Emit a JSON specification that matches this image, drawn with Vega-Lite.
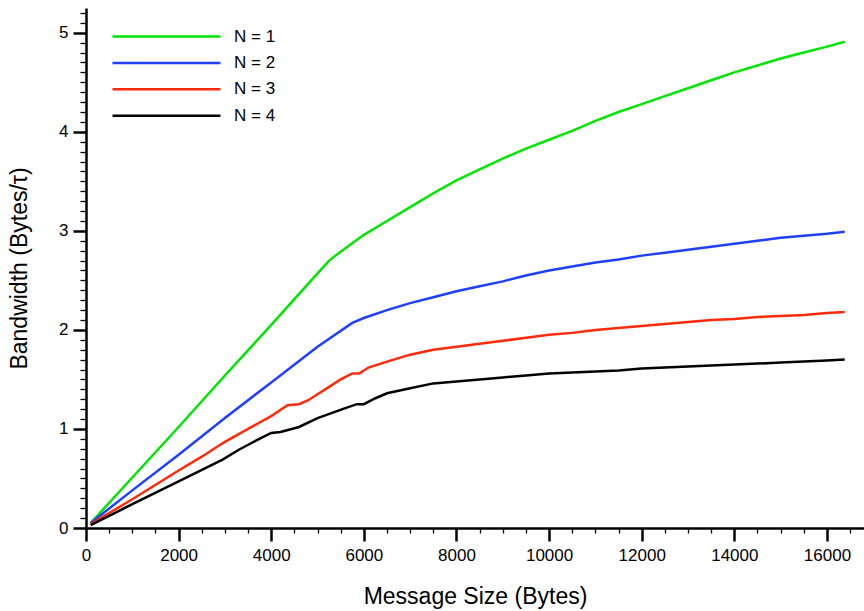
{
  "$schema": "https://vega.github.io/schema/vega-lite/v6.json",
  "width": 778,
  "height": 520,
  "autosize": {"type": "none"},
  "padding": {"left": 86, "top": 8, "right": 0, "bottom": 83},
  "background": "white",
  "config": {
    "view": {"stroke": null},
    "font": "Liberation Sans",
    "axis": {"labelFont": "Liberation Sans", "titleFont": "Liberation Sans", "labelColor": "black", "titleColor": "black", "domainColor": "black", "tickColor": "black", "grid": false, "titleFontWeight": "normal"}
  },
  "datasets": {
    "bw": [
      {"size": 100, "bw": 0.05, "series": "N = 1"},
      {"size": 1000, "bw": 0.51, "series": "N = 1"},
      {"size": 2000, "bw": 1.02, "series": "N = 1"},
      {"size": 3000, "bw": 1.54, "series": "N = 1"},
      {"size": 4000, "bw": 2.05, "series": "N = 1"},
      {"size": 5000, "bw": 2.57, "series": "N = 1"},
      {"size": 5250, "bw": 2.70, "series": "N = 1"},
      {"size": 5500, "bw": 2.79, "series": "N = 1"},
      {"size": 6000, "bw": 2.96, "series": "N = 1"},
      {"size": 6500, "bw": 3.10, "series": "N = 1"},
      {"size": 7000, "bw": 3.24, "series": "N = 1"},
      {"size": 7500, "bw": 3.38, "series": "N = 1"},
      {"size": 8000, "bw": 3.51, "series": "N = 1"},
      {"size": 8500, "bw": 3.62, "series": "N = 1"},
      {"size": 9000, "bw": 3.73, "series": "N = 1"},
      {"size": 9500, "bw": 3.83, "series": "N = 1"},
      {"size": 10000, "bw": 3.92, "series": "N = 1"},
      {"size": 10500, "bw": 4.01, "series": "N = 1"},
      {"size": 11000, "bw": 4.11, "series": "N = 1"},
      {"size": 11500, "bw": 4.20, "series": "N = 1"},
      {"size": 12000, "bw": 4.28, "series": "N = 1"},
      {"size": 12500, "bw": 4.36, "series": "N = 1"},
      {"size": 13000, "bw": 4.44, "series": "N = 1"},
      {"size": 13500, "bw": 4.52, "series": "N = 1"},
      {"size": 14000, "bw": 4.60, "series": "N = 1"},
      {"size": 14500, "bw": 4.67, "series": "N = 1"},
      {"size": 15000, "bw": 4.74, "series": "N = 1"},
      {"size": 15500, "bw": 4.80, "series": "N = 1"},
      {"size": 16000, "bw": 4.86, "series": "N = 1"},
      {"size": 16384, "bw": 4.91, "series": "N = 1"},

      {"size": 100, "bw": 0.05, "series": "N = 2"},
      {"size": 1000, "bw": 0.38, "series": "N = 2"},
      {"size": 2000, "bw": 0.74, "series": "N = 2"},
      {"size": 3000, "bw": 1.11, "series": "N = 2"},
      {"size": 4000, "bw": 1.47, "series": "N = 2"},
      {"size": 5000, "bw": 1.83, "series": "N = 2"},
      {"size": 5750, "bw": 2.07, "series": "N = 2"},
      {"size": 6000, "bw": 2.12, "series": "N = 2"},
      {"size": 6500, "bw": 2.20, "series": "N = 2"},
      {"size": 7000, "bw": 2.27, "series": "N = 2"},
      {"size": 7500, "bw": 2.33, "series": "N = 2"},
      {"size": 8000, "bw": 2.39, "series": "N = 2"},
      {"size": 8500, "bw": 2.44, "series": "N = 2"},
      {"size": 9000, "bw": 2.49, "series": "N = 2"},
      {"size": 9500, "bw": 2.55, "series": "N = 2"},
      {"size": 10000, "bw": 2.60, "series": "N = 2"},
      {"size": 10500, "bw": 2.64, "series": "N = 2"},
      {"size": 11000, "bw": 2.68, "series": "N = 2"},
      {"size": 11500, "bw": 2.71, "series": "N = 2"},
      {"size": 12000, "bw": 2.75, "series": "N = 2"},
      {"size": 12500, "bw": 2.78, "series": "N = 2"},
      {"size": 13000, "bw": 2.81, "series": "N = 2"},
      {"size": 13500, "bw": 2.84, "series": "N = 2"},
      {"size": 14000, "bw": 2.87, "series": "N = 2"},
      {"size": 14500, "bw": 2.90, "series": "N = 2"},
      {"size": 15000, "bw": 2.93, "series": "N = 2"},
      {"size": 15500, "bw": 2.95, "series": "N = 2"},
      {"size": 16000, "bw": 2.97, "series": "N = 2"},
      {"size": 16384, "bw": 2.99, "series": "N = 2"},

      {"size": 100, "bw": 0.04, "series": "N = 3"},
      {"size": 1000, "bw": 0.29, "series": "N = 3"},
      {"size": 2000, "bw": 0.58, "series": "N = 3"},
      {"size": 2500, "bw": 0.72, "series": "N = 3"},
      {"size": 2900, "bw": 0.84, "series": "N = 3"},
      {"size": 3000, "bw": 0.87, "series": "N = 3"},
      {"size": 3500, "bw": 1.00, "series": "N = 3"},
      {"size": 4000, "bw": 1.13, "series": "N = 3"},
      {"size": 4350, "bw": 1.24, "series": "N = 3"},
      {"size": 4600, "bw": 1.25, "series": "N = 3"},
      {"size": 4800, "bw": 1.29, "series": "N = 3"},
      {"size": 5000, "bw": 1.35, "series": "N = 3"},
      {"size": 5200, "bw": 1.41, "series": "N = 3"},
      {"size": 5500, "bw": 1.50, "series": "N = 3"},
      {"size": 5750, "bw": 1.56, "series": "N = 3"},
      {"size": 5900, "bw": 1.56, "series": "N = 3"},
      {"size": 6100, "bw": 1.62, "series": "N = 3"},
      {"size": 6500, "bw": 1.68, "series": "N = 3"},
      {"size": 7000, "bw": 1.75, "series": "N = 3"},
      {"size": 7500, "bw": 1.80, "series": "N = 3"},
      {"size": 8000, "bw": 1.83, "series": "N = 3"},
      {"size": 8500, "bw": 1.86, "series": "N = 3"},
      {"size": 9000, "bw": 1.89, "series": "N = 3"},
      {"size": 9500, "bw": 1.92, "series": "N = 3"},
      {"size": 10000, "bw": 1.95, "series": "N = 3"},
      {"size": 10500, "bw": 1.97, "series": "N = 3"},
      {"size": 11000, "bw": 2.00, "series": "N = 3"},
      {"size": 11500, "bw": 2.02, "series": "N = 3"},
      {"size": 12000, "bw": 2.04, "series": "N = 3"},
      {"size": 12500, "bw": 2.06, "series": "N = 3"},
      {"size": 13000, "bw": 2.08, "series": "N = 3"},
      {"size": 13500, "bw": 2.10, "series": "N = 3"},
      {"size": 14000, "bw": 2.11, "series": "N = 3"},
      {"size": 14500, "bw": 2.13, "series": "N = 3"},
      {"size": 15000, "bw": 2.14, "series": "N = 3"},
      {"size": 15500, "bw": 2.15, "series": "N = 3"},
      {"size": 16000, "bw": 2.17, "series": "N = 3"},
      {"size": 16384, "bw": 2.18, "series": "N = 3"},

      {"size": 100, "bw": 0.03, "series": "N = 4"},
      {"size": 1000, "bw": 0.24, "series": "N = 4"},
      {"size": 2000, "bw": 0.47, "series": "N = 4"},
      {"size": 2950, "bw": 0.69, "series": "N = 4"},
      {"size": 3300, "bw": 0.79, "series": "N = 4"},
      {"size": 3700, "bw": 0.89, "series": "N = 4"},
      {"size": 4000, "bw": 0.96, "series": "N = 4"},
      {"size": 4200, "bw": 0.97, "series": "N = 4"},
      {"size": 4600, "bw": 1.02, "series": "N = 4"},
      {"size": 5000, "bw": 1.11, "series": "N = 4"},
      {"size": 5300, "bw": 1.16, "series": "N = 4"},
      {"size": 5600, "bw": 1.21, "series": "N = 4"},
      {"size": 5850, "bw": 1.25, "series": "N = 4"},
      {"size": 6000, "bw": 1.25, "series": "N = 4"},
      {"size": 6250, "bw": 1.31, "series": "N = 4"},
      {"size": 6500, "bw": 1.36, "series": "N = 4"},
      {"size": 7000, "bw": 1.41, "series": "N = 4"},
      {"size": 7500, "bw": 1.46, "series": "N = 4"},
      {"size": 8000, "bw": 1.48, "series": "N = 4"},
      {"size": 8500, "bw": 1.50, "series": "N = 4"},
      {"size": 9000, "bw": 1.52, "series": "N = 4"},
      {"size": 9500, "bw": 1.54, "series": "N = 4"},
      {"size": 10000, "bw": 1.56, "series": "N = 4"},
      {"size": 10500, "bw": 1.57, "series": "N = 4"},
      {"size": 11000, "bw": 1.58, "series": "N = 4"},
      {"size": 11500, "bw": 1.59, "series": "N = 4"},
      {"size": 12000, "bw": 1.61, "series": "N = 4"},
      {"size": 12500, "bw": 1.62, "series": "N = 4"},
      {"size": 13000, "bw": 1.63, "series": "N = 4"},
      {"size": 13500, "bw": 1.64, "series": "N = 4"},
      {"size": 14000, "bw": 1.65, "series": "N = 4"},
      {"size": 14500, "bw": 1.66, "series": "N = 4"},
      {"size": 15000, "bw": 1.67, "series": "N = 4"},
      {"size": 15500, "bw": 1.68, "series": "N = 4"},
      {"size": 16000, "bw": 1.69, "series": "N = 4"},
      {"size": 16384, "bw": 1.70, "series": "N = 4"}
    ]
  },
  "layer": [
    {
      "data": {"name": "bw"},
      "mark": {"type": "line", "strokeWidth": 2.5},
      "encoding": {
        "x": {
          "field": "size", "type": "quantitative",
          "scale": {"domain": [0, 16800], "nice": false, "zero": false},
          "axis": {
            "title": "Message Size (Bytes)",
            "titleFontSize": 23,
            "titlePadding": 22,
            "values": [0,500,1000,1500,2000,2500,3000,3500,4000,4500,5000,5500,6000,6500,7000,7500,8000,8500,9000,9500,10000,10500,11000,11500,12000,12500,13000,13500,14000,14500,15000,15500,16000,16500],
            "tickCount": 1000,
            "tickMinStep": 1,
            "labelExpr": "datum.value % 2000 === 0 ? format(datum.value, 'd') : ''",
            "labelFontSize": 17,
            "labelPadding": 6,
            "labelFlush": false,
            "labelOverlap": false,
            "domainWidth": 2.5,
            "tickSize": {"condition": {"test": "datum.value % 2000 === 0", "value": 13}, "value": 5},
            "tickWidth": {"condition": {"test": "datum.value % 2000 === 0", "value": 2.5}, "value": 1.3}
          }
        },
        "y": {
          "field": "bw", "type": "quantitative",
          "scale": {"domain": [0, 5.25], "nice": false, "zero": false},
          "axis": {
            "title": "Bandwidth (Bytes/τ)",
            "titleFontSize": 23,
            "titlePadding": 27,
            "values": [0,0.1,0.2,0.3,0.4,0.5,0.6,0.7,0.8,0.9,1,1.1,1.2,1.3,1.4,1.5,1.6,1.7,1.8,1.9,2,2.1,2.2,2.3,2.4,2.5,2.6,2.7,2.8,2.9,3,3.1,3.2,3.3,3.4,3.5,3.6,3.7,3.8,3.9,4,4.1,4.2,4.3,4.4,4.5,4.6,4.7,4.8,4.9,5,5.1,5.2],
            "tickCount": 1000,
            "tickMinStep": 0.001,
            "labelExpr": "abs(datum.value - round(datum.value)) < 0.001 ? format(datum.value, 'd') : ''",
            "labelFontSize": 17,
            "labelPadding": 5,
            "labelFlush": false,
            "labelOverlap": false,
            "domainWidth": 2.5,
            "tickSize": {"condition": {"test": "abs(datum.value - round(datum.value)) < 0.001", "value": 13}, "value": 6},
            "tickWidth": {"condition": {"test": "abs(datum.value - round(datum.value)) < 0.001", "value": 2.5}, "value": 1.3}
          }
        },
        "color": {
          "field": "series", "type": "nominal",
          "scale": {"domain": ["N = 1", "N = 2", "N = 3", "N = 4"], "range": ["#00e600", "#1f3fff", "#ff2a0a", "#000000"]},
          "legend": {
            "title": null,
            "orient": "none",
            "legendX": 72,
            "legendY": 20,
            "symbolType": "M-10,0L10,0",
            "symbolSize": 116.64,
            "symbolStrokeWidth": 2.5,
            "labelFontSize": 17,
            "labelFont": "Liberation Sans",
            "labelColor": "black",
            "labelOffset": 59,
            "rowPadding": 8.4,
            "padding": 0
          }
        }
      }
    },
    {
      "mark": {"type": "rule", "color": "black", "strokeWidth": 2.5},
      "encoding": {"y": {"datum": 5.25}}
    }
  ]
}
